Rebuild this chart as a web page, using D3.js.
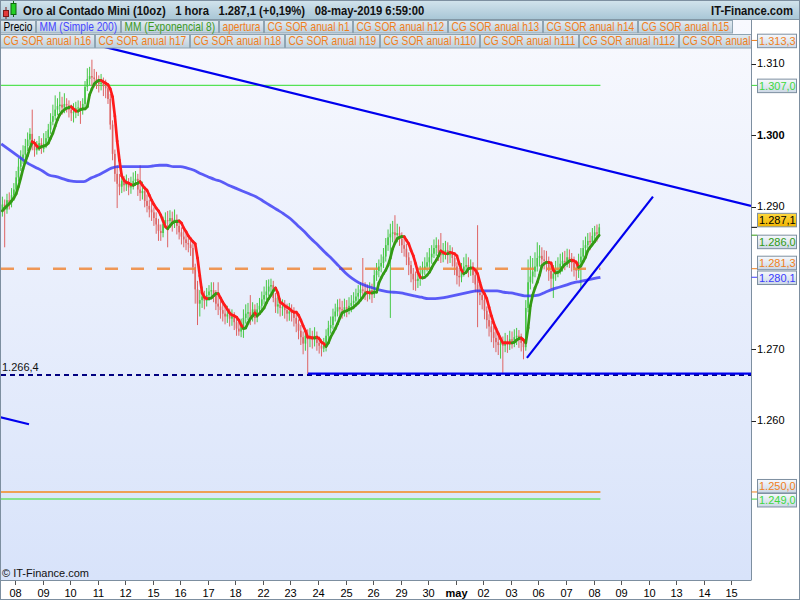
<!DOCTYPE html>
<html lang="es"><head><meta charset="utf-8"><title>Oro al Contado Mini (10oz)</title>
<script src="https://cdn.jsdelivr.net/npm/d3@7/dist/d3.min.js"></script>
<style>html,body{margin:0;padding:0;background:#fff}svg{display:block;font-family:"Liberation Sans",Arial,Helvetica,sans-serif}</style>
</head><body><svg id="chart" width="800" height="600"></svg>
<script>
// ---------------- DATA ----------------
const chartTitle = "Oro al Contado Mini (10oz)";
const periodLabel = "1 hora";
const dateLabel = "08-may-2019 6:59:00";
const changePct = 0.19;
const siteName = "IT-Finance.com";
const copyright = "© IT-Finance.com";
const legendRowA = ["Precio","MM (Simple 200)","MM (Exponencial 8)","apertura","CG SOR anual h1","CG SOR anual h12","CG SOR anual h13","CG SOR anual h14","CG SOR anual h15"];
const legendRowB = ["CG SOR anual h16","CG SOR anual h17","CG SOR anual h18","CG SOR anual h19","CG SOR anual h110","CG SOR anual h111","CG SOR anual h112","CG SOR anual h113"];
const dayLabels = ["08","09","10","11","12","15","16","17","18","22","23","24","25","26","29","30","may","02","03","06","07","08","09","10","13","14","15"];
const priceTicks = [1310,1300,1290,1270,1260];
// session hours since 08-abr 00:00 (trading hours only)
const startHour = -12, barHours = 2, smaStepHours = 6;
const firstOpen = 1289.5;
const closes = [
1290.3,1289.6,1290.9,1290.5,1291.6,1292.4,1294.1,1295.6,1296.8,1297.3,
1298.5,1299.4,1300.2,1298.6,1297.9,1298.4,1298.9,1298.1,1298.8,1299.6,
1300.8,1301.9,1302.7,1303.6,1304.1,1304.3,1303.9,1304.4,1304.2,1303.6,
1303.1,1303.3,1303.8,1303.9,1303.5,1304.4,1306.8,1307.9,1308.3,1308.1,
1307.9,1307.6,1307.2,1307.4,1306.9,1306.6,1305.1,1301.5,1297.4,1294.6,
1293.2,1292.8,1293.6,1293.0,1293.4,1292.7,1293.1,1293.6,1293.9,1292.4,
1291.9,1292.2,1290.8,1290.1,1289.6,1289.2,1288.4,1287.5,1286.6,1286.3,
1287.6,1288.1,1288.0,1288.4,1287.8,1288.2,1287.3,1286.4,1285.8,1285.4,
1284.9,1284.7,1284.2,1281.5,1278.4,1276.4,1276.9,1277.4,1276.8,1277.6,
1278.1,1278.3,1277.6,1276.4,1276.0,1275.5,1275.0,1274.6,1274.9,1274.3,
1274.6,1273.8,1272.9,1272.5,1273.2,1274.4,1275.0,1275.2,1274.5,1275.6,
1274.4,1275.6,1276.1,1277.0,1277.6,1278.1,1278.8,1279.0,1277.2,1276.0,
1276.3,1275.8,1275.9,1275.5,1275.0,1275.3,1275.1,1274.4,1273.6,1272.6,
1271.7,1270.8,1271.9,1271.4,1271.8,1271.3,1271.9,1270.9,1270.5,1270.1,
1270.6,1271.9,1273.0,1273.4,1274.6,1275.3,1275.9,1275.6,1275.5,1275.9,
1275.7,1276.1,1276.5,1276.8,1277.4,1277.9,1278.4,1278.2,1278.0,1277.8,
1278.3,1277.7,1280.4,1281.0,1281.6,1282.1,1283.0,1284.6,1285.7,1286.2,
1286.4,1286.0,1286.3,1285.5,1284.6,1284.1,1282.9,1281.8,1280.6,1279.8,
1279.6,1279.9,1280.6,1281.2,1281.6,1282.2,1282.9,1283.4,1284.2,1284.6,
1283.5,1283.2,1283.6,1283.9,1283.2,1283.4,1282.8,1281.6,1280.3,1280.1,
1281.0,1281.6,1281.8,1281.2,1281.5,1280.4,1279.1,1277.9,1277.6,1276.9,
1275.4,1274.1,1273.2,1272.4,1271.6,1271.0,1270.6,1270.8,1270.5,1271.2,
1270.7,1271.4,1271.2,1271.7,1271.9,1271.4,1270.9,1270.3,1275.8,1279.4,
1280.2,1280.9,1281.6,1282.8,1283.1,1282.6,1282.4,1282.3,1281.0,1279.9,
1280.6,1281.2,1281.3,1282.0,1282.4,1282.3,1282.9,1282.6,1282.1,1281.4,
1281.0,1282.2,1283.0,1284.2,1284.6,1285.2,1285.0,1285.9,1286.4,1286.2,
1287.1];
const highs = [
1291.4,1291.0,1291.8,1292.0,1292.6,1293.3,1295.0,1296.8,1297.9,1298.6,
1299.5,1300.4,1301.0,1303.6,1299.5,1299.2,1299.9,1299.6,1300.3,1300.6,
1301.6,1303.1,1304.3,1305.6,1305.2,1306.1,1305.4,1305.9,1305.2,1304.9,
1304.3,1304.5,1304.7,1304.9,1304.8,1305.2,1307.6,1309.4,1309.6,1310.6,
1309.3,1308.9,1308.4,1308.6,1308.1,1307.8,1307.2,1305.8,1302.1,1298.0,
1295.8,1294.6,1294.7,1294.3,1294.5,1294.0,1294.2,1294.8,1295.0,1294.6,
1295.8,1293.5,1292.9,1291.7,1291.0,1290.6,1289.9,1289.2,1288.3,1287.5,
1288.6,1289.2,1289.4,1289.5,1289.3,1289.6,1288.9,1288.0,1287.1,1286.8,
1286.3,1286.0,1285.6,1284.9,1282.0,1279.6,1278.3,1278.8,1278.2,1278.6,
1279.0,1279.4,1279.4,1278.3,1279.4,1276.9,1276.4,1276.0,1276.1,1275.7,
1275.6,1275.2,1274.4,1273.8,1274.3,1275.6,1276.3,1276.5,1277.6,1276.6,
1276.3,1276.5,1277.2,1278.1,1278.8,1279.7,1279.8,1279.9,1279.6,1277.9,
1277.4,1277.2,1277.0,1276.9,1276.4,1276.5,1276.3,1275.9,1275.1,1274.2,
1273.4,1272.5,1272.9,1272.8,1273.0,1272.6,1273.1,1272.5,1271.8,1271.4,
1271.6,1272.8,1274.0,1274.6,1275.7,1276.4,1277.0,1277.1,1276.8,1277.1,
1276.9,1277.3,1277.6,1278.0,1278.5,1279.0,1279.4,1282.8,1279.4,1279.1,
1279.4,1279.2,1281.2,1282.1,1282.6,1283.3,1284.2,1285.6,1286.8,1287.6,
1288.0,1288.8,1287.6,1287.2,1286.4,1285.7,1284.8,1283.6,1282.4,1281.4,
1280.9,1281.0,1281.7,1282.3,1282.9,1283.6,1284.2,1284.6,1285.4,1285.7,
1285.4,1286.3,1284.9,1285.2,1285.0,1284.6,1284.3,1283.5,1282.2,1281.4,
1282.1,1282.9,1283.4,1282.9,1282.6,1282.2,1281.0,1287.4,1279.0,1278.5,
1277.6,1276.0,1274.9,1274.0,1273.3,1272.6,1272.0,1271.9,1271.8,1272.3,
1272.0,1272.6,1272.5,1272.8,1273.0,1272.7,1272.2,1271.6,1276.9,1282.6,
1283.1,1282.8,1283.6,1285.0,1284.6,1284.3,1283.9,1283.8,1283.0,1281.7,
1281.8,1282.4,1282.9,1283.4,1283.6,1283.8,1284.1,1284.0,1283.5,1283.0,
1282.5,1283.4,1284.2,1285.3,1285.8,1286.3,1286.4,1287.0,1287.3,1287.5,
1287.6];
const lows = [
1288.6,1284.3,1289.0,1289.6,1289.9,1290.8,1291.9,1293.5,1295.0,1296.0,
1296.6,1297.8,1298.7,1297.9,1297.0,1297.3,1297.8,1297.4,1297.6,1298.2,
1299.1,1300.2,1301.4,1302.1,1302.8,1303.2,1302.9,1303.1,1303.2,1302.5,
1302.0,1301.8,1302.4,1302.7,1301.6,1302.9,1303.9,1306.2,1307.0,1306.9,
1306.7,1306.5,1306.0,1306.3,1305.5,1305.2,1304.4,1300.8,1296.5,1293.5,
1289.8,1291.6,1291.9,1292.1,1292.2,1291.6,1291.8,1292.4,1292.9,1291.5,
1290.8,1291.0,1289.9,1289.2,1288.5,1288.0,1287.3,1286.2,1285.2,1285.2,
1285.7,1286.9,1284.3,1287.0,1286.5,1287.0,1286.1,1285.4,1284.7,1284.3,
1283.9,1283.6,1283.1,1280.6,1276.4,1273.4,1274.6,1275.8,1275.6,1276.0,
1276.8,1277.2,1276.6,1275.5,1274.8,1274.3,1273.9,1273.5,1273.7,1273.2,
1273.3,1272.7,1271.9,1271.9,1271.7,1271.6,1273.6,1274.1,1273.4,1273.9,
1273.5,1273.8,1274.9,1275.4,1276.3,1276.9,1277.4,1277.8,1276.6,1275.1,
1275.0,1274.6,1274.7,1274.3,1273.9,1274.0,1273.9,1273.2,1272.4,1271.4,
1270.6,1269.3,1269.8,1266.4,1270.3,1270.1,1270.4,1269.8,1269.4,1269.0,
1269.6,1269.7,1271.2,1272.2,1272.8,1273.9,1274.6,1274.7,1274.3,1274.6,
1274.5,1274.9,1275.2,1275.6,1276.0,1276.6,1277.0,1277.1,1276.9,1276.7,
1277.0,1276.5,1277.2,1279.6,1280.1,1280.8,1281.4,1282.3,1283.8,1274.4,
1285.0,1284.9,1285.0,1284.5,1283.5,1283.0,1281.8,1280.4,1279.4,1278.3,
1278.2,1278.6,1278.9,1279.8,1280.4,1280.9,1281.3,1282.0,1282.8,1283.1,
1282.4,1282.1,1282.2,1282.6,1282.0,1282.1,1281.6,1280.4,1279.1,1278.8,
1279.4,1280.2,1280.6,1280.1,1280.3,1279.3,1278.0,1273.1,1276.2,1275.6,
1274.2,1272.9,1271.8,1271.0,1270.2,1269.6,1269.2,1268.7,1266.7,1269.6,
1269.5,1269.9,1270.1,1270.3,1270.6,1270.2,1269.7,1268.6,1269.8,1275.2,
1278.4,1279.2,1280.1,1280.9,1281.6,1281.4,1281.2,1280.9,1279.6,1278.5,
1277.2,1279.6,1280.1,1280.5,1280.9,1281.1,1281.5,1281.4,1280.9,1280.2,
1279.7,1280.0,1278.6,1282.4,1283.3,1283.9,1283.9,1284.4,1285.0,1285.1,
1285.8];
const ema8 = [
1289.4,1289.8,1290.1,1290.4,1290.8,1291.2,1291.8,1292.8,1294.0,1295.3,
1296.3,1297.2,1298.2,1299.1,1298.9,1298.5,1298.2,1298.4,1298.5,1298.6,
1298.9,1299.6,1300.3,1301.3,1302.2,1302.9,1303.3,1303.6,1303.8,1303.9,
1304.0,1303.7,1303.4,1303.4,1303.6,1303.7,1303.7,1304.0,1305.7,1306.5,
1307.2,1307.5,1307.7,1307.7,1307.5,1307.3,1307.1,1306.5,1305.4,1302.7,
1299.2,1296.5,1294.3,1293.7,1293.4,1293.3,1293.1,1293.0,1293.2,1293.3,
1293.5,1293.0,1292.6,1292.3,1291.6,1290.9,1290.3,1289.8,1289.4,1288.8,
1288.0,1287.2,1286.9,1287.3,1287.7,1287.9,1287.9,1288.0,1287.7,1287.0,
1286.5,1285.9,1285.5,1285.1,1284.8,1282.8,1280.3,1277.9,1277.3,1277.1,
1277.1,1277.2,1277.5,1277.8,1277.8,1277.2,1276.6,1276.1,1275.6,1275.1,
1274.8,1274.7,1274.5,1274.1,1273.4,1272.9,1273.0,1273.7,1274.3,1274.7,
1275.1,1274.7,1275.0,1275.4,1275.8,1276.5,1277.1,1277.6,1278.2,1278.6,
1277.9,1276.6,1276.4,1276.1,1275.9,1275.7,1275.4,1275.2,1275.2,1274.8,
1274.1,1273.3,1272.6,1271.7,1271.7,1271.6,1271.6,1271.7,1271.5,1271.0,
1270.8,1270.4,1270.9,1271.7,1272.3,1272.9,1273.6,1274.4,1275.1,1275.3,
1275.4,1275.6,1275.7,1275.9,1276.2,1276.5,1276.9,1277.3,1277.8,1278.0,
1277.9,1277.9,1278.0,1278.0,1279.3,1280.0,1280.6,1281.1,1281.8,1282.8,
1284.1,1284.9,1285.5,1285.7,1285.8,1285.8,1285.3,1284.8,1283.9,1283.1,
1282.0,1280.8,1280.1,1280.0,1280.1,1280.4,1280.8,1281.4,1282.0,1282.5,
1283.1,1283.8,1283.6,1283.4,1283.4,1283.6,1283.5,1283.4,1283.1,1282.0,
1281.1,1280.6,1280.8,1281.3,1281.4,1281.4,1281.1,1280.6,1279.4,1278.3,
1277.8,1277.1,1275.9,1274.7,1273.7,1272.9,1272.2,1271.5,1270.9,1270.9,
1270.9,1270.9,1270.9,1271.0,1271.3,1271.5,1271.6,1271.3,1270.9,1273.0,
1276.1,1277.6,1278.6,1279.4,1280.4,1281.7,1282.0,1282.2,1282.2,1282.1,
1281.1,1280.7,1280.8,1281.0,1281.5,1281.9,1282.1,1282.4,1282.5,1282.4,
1282.2,1281.5,1281.7,1282.3,1282.9,1283.8,1284.3,1284.7,1285.1,1285.6,
1286.0];
const sma200 = [
1298.8,1298.1,1297.4,1296.7,1296.0,1295.5,1295.0,1294.4,1294.2,1293.9,
1293.6,1293.5,1293.5,1294.0,1294.4,1294.9,1295.4,1295.6,1295.6,1295.6,
1295.6,1295.6,1295.7,1295.8,1295.8,1295.6,1295.6,1295.4,1295.1,1294.6,
1294.2,1293.8,1293.5,1293.0,1292.6,1292.2,1291.8,1291.4,1290.8,1290.2,
1289.6,1289.0,1288.3,1287.4,1286.5,1285.5,1284.6,1283.6,1282.7,1281.7,
1280.7,1279.9,1279.3,1278.9,1278.6,1278.3,1278.1,1278.0,1277.9,1277.7,
1277.5,1277.3,1277.1,1277.1,1277.2,1277.4,1277.6,1277.8,1278.0,1278.2,
1278.2,1278.2,1278.2,1278.0,1277.9,1277.7,1277.5,1277.5,1277.6,1278.0,
1278.4,1278.7,1279.0,1279.3,1279.5,1279.7,1279.9,1280.1];
const levelTop = 1307.0, levelApertura = 1281.3, levelOrange = 1250.0, levelGreen = 1249.0;
const levelSupport = 1266.4, levelOffChart = 1313.3;
// trend lines as [sessionHour, price] pairs
const trendResistance = [[60, 1313.1], [641.2, 1290.1]];
const trendRising = [[446.0, 1268.8], [555.8, 1291.4]];
const trendOld = [[-13.1, 1260.5], [12.2, 1259.5]];
const trendSupport = [[255.2, 1266.6], [641.2, 1266.6]];

// ---------------- DRAW ----------------
const plot = {l: 1, r: 751, t: 50, b: 580};
const x = d3.scaleLinear().domain([-12.2, 641.2]).range([plot.l, plot.r]);
const y = d3.scaleLinear().domain([1237.66, 1311.96]).range([plot.b, plot.t]);
const svg = d3.select("#chart");
const defs = svg.append("defs");
function grad(id, a, b) {
  const g = defs.append("linearGradient").attr("id", id).attr("x1", 0).attr("y1", 0).attr("x2", 0).attr("y2", 1);
  g.append("stop").attr("offset", 0).attr("stop-color", a);
  g.append("stop").attr("offset", 1).attr("stop-color", b);
}
grad("gPlot", "#f8f9fe", "#d8e3fa");
grad("gHead", "#d3e4ed", "#a7c5d5");
grad("gCell", "#e3ecf2", "#bccfdc");
grad("gBox", "#f7f9fc", "#cbd7e5");
grad("gGold", "#ffd940", "#f0b400");
defs.append("clipPath").attr("id", "cPlot").append("rect")
  .attr("x", plot.l).attr("y", 20).attr("width", plot.r - plot.l).attr("height", plot.b - 20);
defs.append("clipPath").attr("id", "cLeg").append("rect")
  .attr("x", 0).attr("y", 20).attr("width", plot.r).attr("height", 30);

function fmt(v, d) {
  const s = Math.abs(v).toFixed(d).split(".");
  const i = s[0].replace(/\B(?=(\d{3})+(?!\d))/g, ".");
  return (v < 0 ? "-" : "") + i + (s[1] ? "," + s[1] : "");
}

svg.append("rect").attr("width", 800).attr("height", 600).attr("fill", "#fff");
svg.append("rect").attr("x", plot.l).attr("y", 20).attr("width", plot.r - plot.l).attr("height", plot.b - 20).attr("fill", "url(#gPlot)");

const gp = svg.append("g").attr("clip-path", "url(#cPlot)");
const lastU = startHour + closes.length * barHours;
const u0 = x.domain()[0], u1 = x.domain()[1];
function hline(v, color, w, dash, op, uEnd) {
  gp.append("line").attr("x1", x(u0)).attr("x2", x(uEnd)).attr("y1", y(v)).attr("y2", y(v))
    .attr("stroke", color).attr("stroke-width", w).attr("stroke-dasharray", dash || null).attr("opacity", op || 1);
}
hline(levelTop, "#55e255", 1.2, null, 1, lastU);
hline(levelOrange, "#f5891c", 1.5, null, 1, lastU);
hline(levelGreen, "#6ae06a", 1.5, null, 1, lastU);

// candles
const bars = closes.map((c, k) => {
  const o = k ? closes[k - 1] : firstOpen;
  return {u: startHour + barHours * k + barHours / 2, o, c, h: Math.max(highs[k], o, c), l: Math.min(lows[k], o, c)};
});
const upC = "#46c846", dnC = "#de6464";
const gc = gp.append("g");
gc.selectAll("line").data(bars).join("line")
  .attr("x1", d => x(d.u)).attr("x2", d => x(d.u)).attr("y1", d => y(d.h)).attr("y2", d => y(d.l))
  .attr("stroke", d => d.c >= d.o ? upC : dnC).attr("stroke-width", 1);
const bw = (x(barHours) - x(0)) * 0.7;
gc.selectAll("rect").data(bars).join("rect")
  .attr("x", d => x(d.u) - bw / 2).attr("width", bw)
  .attr("y", d => y(Math.max(d.o, d.c))).attr("height", d => Math.max(1, Math.abs(y(d.o) - y(d.c))))
  .attr("fill", d => d.c >= d.o ? upC : dnC);

// apertura dashed level
hline(levelApertura, "#f0883a", 2.6, "13,13", 0.85, lastU);

// SMA 200
const smaPts = sma200.map((v, j) => [startHour + j * smaStepHours, v]);
gp.append("path").attr("d", d3.line().x(d => x(d[0])).y(d => y(d[1])).curve(d3.curveMonotoneX)(smaPts))
  .attr("fill", "none").attr("stroke", "#3535f5").attr("stroke-width", 2.8).attr("opacity", 0.8);

// EMA 8, coloured by slope
const emaPts = ema8.map((v, k) => [startHour + barHours * k + barHours / 2, v]);
let lastCol = "#339a14";
const segs = d3.pairs(emaPts).map(p => {
  if (p[1][1] > p[0][1]) lastCol = "#339a14"; else if (p[1][1] < p[0][1]) lastCol = "#ff1a1a";
  return {p, col: lastCol};
});
gp.append("g").selectAll("line").data(segs).join("line")
  .attr("x1", d => x(d.p[0][0])).attr("y1", d => y(d.p[0][1]))
  .attr("x2", d => x(d.p[1][0])).attr("y2", d => y(d.p[1][1]))
  .attr("stroke", d => d.col).attr("stroke-width", 2.7).attr("stroke-linecap", "round");

// support / trend lines
hline(levelSupport, "#000080", 2, "5,4", 1, u1);
function tline(pts) {
  gp.append("line").attr("x1", x(pts[0][0])).attr("y1", y(pts[0][1])).attr("x2", x(pts[1][0])).attr("y2", y(pts[1][1]))
    .attr("stroke", "#0000ee").attr("stroke-width", 2.2);
}
tline(trendSupport); tline(trendResistance); tline(trendRising); tline(trendOld);
svg.append("text").attr("x", 2).attr("y", y(levelSupport) - 4).attr("font-size", 11).attr("fill", "#111").text(fmt(levelSupport, 1));
svg.append("text").attr("x", 2).attr("y", 577).attr("font-size", 11).attr("fill", "#111").text(copyright);

// ---------- header row ----------
svg.append("rect").attr("x", 0).attr("y", 0).attr("width", 800).attr("height", 20).attr("fill", "url(#gHead)");
svg.append("line").attr("x1", 0).attr("x2", 800).attr("y1", 19.5).attr("y2", 19.5).attr("stroke", "#8397a5");
// icon
svg.append("line").attr("x1", 6).attr("x2", 6).attr("y1", 7).attr("y2", 19).attr("stroke", "#7a1a1a");
svg.append("rect").attr("x", 3.5).attr("y", 10.5).attr("width", 5).attr("height", 6).attr("fill", "#e23a3a").attr("stroke", "#7a1a1a");
svg.append("line").attr("x1", 13.5).attr("x2", 13.5).attr("y1", 1).attr("y2", 17).attr("stroke", "#116611");
svg.append("rect").attr("x", 11).attr("y", 3.5).attr("width", 5).attr("height", 11).attr("fill", "#25d025").attr("stroke", "#116611");
const lastClose = closes[closes.length - 1];
const hdr = [chartTitle, periodLabel, fmt(lastClose, 1) + " (+" + fmt(changePct, 2) + "%)", dateLabel];
let hx = 23;
hdr.forEach(t => {
  const el = svg.append("text").attr("font-size", 12).attr("font-weight", "bold").attr("fill", "#111")
    .attr("transform", `translate(${hx},15) scale(0.94,1)`).text(t);
  hx += el.node().getComputedTextLength() * 0.94 + 9.5;
});
svg.append("text").attr("font-size", 12).attr("font-weight", "bold").attr("fill", "#111").attr("text-anchor", "end")
  .attr("transform", "translate(793,15) scale(0.94,1)").text(siteName);

// ---------- legend rows ----------
const SX = 0.85;
function legendRow(items, colors, yTop, h, base) {
  const g = svg.append("g").attr("clip-path", "url(#cLeg)");
  let cx = 0;
  items.forEach((t, i) => {
    if (cx >= plot.r - 8) return;
    const txt = g.append("text").attr("font-size", 12).attr("fill", colors[i] || "#f07f1c")
      .attr("transform", `translate(${cx + 3.5},${base}) scale(${SX},1)`).text(t);
    let tw = txt.node().getComputedTextLength() * SX;
    const cw = Math.round(tw + 7);
    // a cell cut by the price axis shows only the characters that fit
    let s = t;
    while (s.length > 1 && cx + 3.5 + tw > plot.r) {
      s = s.slice(0, -1); txt.text(s); tw = txt.node().getComputedTextLength() * SX;
    }
    g.insert("rect", () => txt.node()).attr("x", cx + 0.5).attr("y", yTop + 0.5).attr("width", cw - 1).attr("height", h - 1)
      .attr("fill", "url(#gCell)").attr("stroke", "#8fa4b2");
    cx += cw;
  });
}
legendRow(legendRowA, ["#000", "#4646ff", "#3c9a1e"], 20, 13.5, 30.5);
legendRow(legendRowB, [], 34, 14.5, 45);

// ---------- axes ----------
const axisCol = "#7d8fa0";
svg.append("line").attr("x1", plot.r + 0.5).attr("x2", plot.r + 0.5).attr("y1", 20).attr("y2", plot.b).attr("stroke", axisCol);
svg.append("line").attr("x1", 0).attr("x2", plot.r + 0.5).attr("y1", plot.b + 0.5).attr("y2", plot.b + 0.5).attr("stroke", axisCol);
svg.append("rect").attr("x", 0.5).attr("y", 0.5).attr("width", 799).attr("height", 599).attr("fill", "none").attr("stroke", axisCol);

priceTicks.forEach(v => {
  svg.append("line").attr("x1", plot.r + 0.5).attr("x2", plot.r + 5).attr("y1", Math.round(y(v)) + 0.5).attr("y2", Math.round(y(v)) + 0.5).attr("stroke", "#222");
  svg.append("text").attr("x", 757).attr("y", y(v) + 3.5).attr("font-size", 11).attr("fill", "#000")
    .attr("font-weight", v === 1300 ? "bold" : null).text(fmt(v, 0));
});

dayLabels.forEach((t, i) => {
  const xx = Math.round(x(i * 24)) + 0.5;
  svg.append("line").attr("x1", xx).attr("x2", xx).attr("y1", plot.b + 1).attr("y2", plot.b + 5).attr("stroke", "#555");
  svg.append("text").attr("x", xx).attr("y", 597).attr("text-anchor", "middle").attr("font-size", 11).attr("fill", "#000")
    .attr("font-weight", t === "may" ? "bold" : null).text(t);
});

// value boxes on the price axis
const lastEma = ema8[ema8.length - 1], lastSma = sma200[sma200.length - 1];
const boxes = [
  {v: levelOffChart, col: "#f07f1c", mode: "center"},
  {v: levelTop, col: "#3ed83e", mode: "center"},
  {v: lastClose, col: "#000", mode: "last", fill: "url(#gGold)"},
  {v: lastEma, col: "#2f9a12", mode: "below"},
  {v: levelApertura, col: "#f07f1c", mode: "above"},
  {v: lastSma, col: "#3a3aff", mode: "center"},
  {v: levelOrange, col: "#f07f1c", mode: "above"},
  {v: levelGreen, col: "#3ed83e", mode: "center"}
];
const boxH = 13.5;
let prevBottom = -1e9;
boxes.forEach(b => {
  const yv = y(b.v);
  let top = b.mode === "center" ? yv - boxH / 2 + 0.5 : b.mode === "above" ? yv + 1 - boxH : b.mode === "below" ? yv : yv - 0.5 - boxH;
  top = Math.max(top, prevBottom + 0.5);
  prevBottom = top + boxH;
  svg.append("line").attr("x1", plot.r + 0.5).attr("x2", 757).attr("y1", yv).attr("y2", yv)
    .attr("stroke", b.mode === "last" ? "#000" : b.col).attr("stroke-width", 1);
  svg.append("rect").attr("x", 757.5).attr("y", top).attr("width", 39).attr("height", boxH)
    .attr("fill", b.fill || "url(#gBox)").attr("stroke", "#7d8fa0");
  svg.append("text").attr("x", 759).attr("y", top + 10.5).attr("font-size", 11).attr("fill", b.col).text(fmt(b.v, 1));
});
</script></body></html>
